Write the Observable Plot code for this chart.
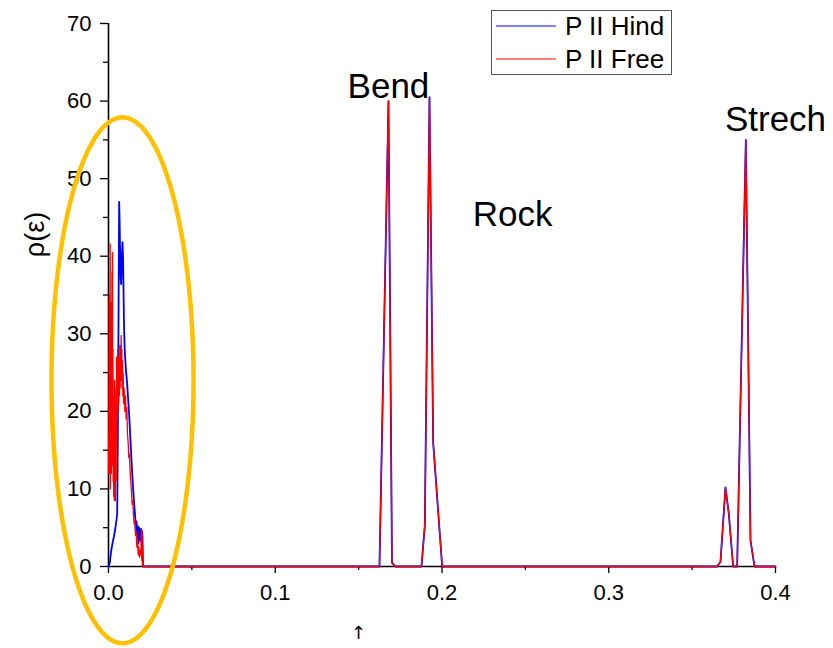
<!DOCTYPE html>
<html>
<head>
<meta charset="utf-8">
<script src="https://cdn.jsdelivr.net/npm/d3@7"></script>
<script src="https://cdn.jsdelivr.net/npm/@observablehq/plot@0.6"></script>
<style>
  html, body { margin: 0; padding: 0; background: #fff; }
  #wrap { position: relative; width: 833px; height: 648px; font-family: "Liberation Sans", Arial, sans-serif; }
  #legend { position: absolute; left: 491px; top: 10px; }
</style>
</head>
<body>
<div id="wrap"></div>
<script>
// ---- data ----
const seriesNames = ["P II Hind", "P II Free"];
const seriesColors = ["#0000ff", "#ff0000"];

// low-energy region, P II Hind
const hindX = [0.0000,0.0008,0.0016,0.0024,0.0032,0.0040,0.0048,0.0052,0.0055,0.0058,0.0061,0.0064,0.0067,0.0070,0.0073,0.0076,0.0079,0.0084,0.0087,0.0090,0.0093,0.0097,0.0101,0.0106,0.0112,0.0118,0.0124,0.0130,0.0136,0.0142,0.0148,0.0154,0.0160,0.0164,0.0168,0.0172,0.0176,0.0180,0.0184,0.0188,0.0192,0.0196,0.0200,0.0204,0.0207];
const hindY = [0,0.5,2,3,3.8,4.8,6,6.8,14,24,36,47,44,40,37,36.4,39.5,41.8,40,35.6,31,28,26.5,25,23.5,21.5,19.5,17,14.5,12,10,8,6.5,4.5,5.8,3.6,5.2,3,5,3.4,4.8,3.2,4.6,3.8,0];

// low-energy region, P II Free
const freeX = [0.0000,0.0002,0.0004,0.0005,0.0007,0.0008,0.0010,0.0011,0.0013,0.0014,0.0016,0.0017,0.0019,0.0021,0.0022,0.0024,0.0025,0.0027,0.0028,0.0030,0.0031,0.0033,0.0035,0.0036,0.0038,0.0040,0.0041,0.0043,0.0045,0.0046,0.0048,0.0050,0.0052,0.0054,0.0056,0.0058,0.0060,0.0062,0.0064,0.0066,0.0068,0.0070,0.0072,0.0074,0.0076,0.0078,0.0080,0.0082,0.0084,0.0086,0.0088,0.0090,0.0094,0.0098,0.0102,0.0106,0.0110,0.0114,0.0118,0.0122,0.0126,0.0130,0.0134,0.0138,0.0142,0.0146,0.0150,0.0154,0.0158,0.0162,0.0166,0.0170,0.0174,0.0178,0.0182,0.0186,0.0190,0.0194,0.0197,0.0199,0.0201,0.0204];
const freeY = [12,18,35,12,30,20,41.6,10,30,14,34,12,25,38,15,40.5,13,28,11,22,9,19,8.5,24,14,21,8.5,17,23,11,27,17,25,19,28,20,26,21,27,22,28.5,23,27,24,29.8,25,28,23,26.5,22,25,21,23,20,22,19,20.5,17,16,14,14.5,12,11,9.5,8,8.5,6.5,5.5,6,4,4.5,2.5,3.5,1.5,2.5,1.2,2,1.5,4.9,0.8,4.7,0];

// vibrational peaks (both series coincide)
const peakX = [0.0210,0.1625,0.1679,0.1700,0.1720,0.1877,0.1897,0.1925,0.1947,0.2001,0.3650,0.3670,0.3700,0.3720,0.3746,0.3770,0.3822,0.3850,0.3874,0.4000];
const peakY = [0,0,60,0.5,0,0,5.3,60.5,16,0,0,0.6,10.2,6.8,0,0,55,3.4,0,0];

// tick values
const xMajorTicks = [0, 0.1, 0.2, 0.3, 0.4];
const xMinorTicks = [0.05, 0.15, 0.25, 0.35];
const yMajorTicks = [0, 10, 20, 30, 40, 50, 60, 70];
const yMinorTicks = [5, 15, 25, 35, 45, 55, 65];

// annotations (data units)
const annoText = ["Bend", "Rock", "Strech"];
const annoX = [0.1679, 0.2423, 0.4000];
const annoY = [61.8, 45.3, 57.6];

// highlight ellipse (data units): cx, cy, rx, ry
const ellipseParams = [0.0084, 24.0, 0.0426, 33.9];

// ---- build tables ----
const hind = hindX.map((x, i) => ({x, y: hindY[i]})).concat(peakX.map((x, i) => ({x, y: peakY[i]})));
const free = freeX.map((x, i) => ({x, y: freeY[i]})).concat(peakX.map((x, i) => ({x, y: peakY[i]})));
const annos = annoText.map((t, i) => ({t, x: annoX[i], y: annoY[i]}));
const [ecx, ecy, erx, ery] = ellipseParams;
const ellipse = d3.range(0, 121).map(k => {
  const a = (k / 120) * 2 * Math.PI;
  return {x: ecx + erx * Math.cos(a), y: ecy + ery * Math.sin(a)};
});

const chart = Plot.plot({
  width: 833,
  height: 648,
  marginLeft: 108,
  marginRight: 58,
  marginTop: 23,
  marginBottom: 82,
  style: {fontFamily: "'Liberation Sans', Arial, sans-serif", background: "white", overflow: "visible"},
  x: {domain: [0, 0.4]},
  y: {domain: [0, 70]},
  marks: [
    Plot.axisY({ticks: yMajorTicks, tickSize: 8, tickPadding: 9, fontSize: 22, label: null, strokeWidth: 1.3, color: "black"}),
    Plot.axisY({ticks: yMinorTicks, tickSize: 5, text: null, label: null, strokeWidth: 1.3}),
    Plot.axisX({ticks: xMajorTicks, tickFormat: d3.format(".1f"), tickSize: 7, tickPadding: 11, fontSize: 22, label: null, strokeWidth: 1.3, color: "black"}),
    Plot.axisX({ticks: xMinorTicks, tickSize: 4, text: null, label: null, strokeWidth: 1.3}),
    Plot.ruleX([0], {stroke: "black", strokeWidth: 1.6}),
    Plot.ruleY([0], {stroke: "black", strokeWidth: 1.6}),
    Plot.line(hind, {x: "x", y: "y", stroke: seriesColors[0], strokeWidth: 1.8}),
    Plot.line(free, {x: "x", y: "y", stroke: seriesColors[1], strokeWidth: 1.3}),
    Plot.line(ellipse, {x: "x", y: "y", stroke: "#ffc000", strokeWidth: 4.5, curve: "linear-closed"}),
    Plot.text(annos, {x: "x", y: "y", text: "t", fontSize: 35, fill: "black", textAnchor: "middle", lineAnchor: "middle"}),
    Plot.text(["ρ(ε)"], {x: () => 0, y: () => 42.8, dx: -73, rotate: -90, fontSize: 27, fill: "black", textAnchor: "middle", lineAnchor: "middle"}),
    Plot.text(["↑"], {x: () => 0.15, y: () => -8.6, fontSize: 18, fontFamily: "DejaVu Sans", fill: "black", textAnchor: "middle", lineAnchor: "middle"})
  ]
});

const wrap = document.getElementById("wrap");
wrap.appendChild(chart);

// legend overlay (inside plot, top-right)
const ns = "http://www.w3.org/2000/svg";
const leg = document.createElementNS(ns, "svg");
leg.setAttribute("id", "legend");
leg.setAttribute("width", 182);
leg.setAttribute("height", 66);
leg.innerHTML = `<rect x="0.5" y="0.5" width="180" height="64" fill="white" stroke="#555" stroke-width="1"/>` +
  seriesNames.map((n, i) => {
    const cy = 16 + i * 33;
    return `<line x1="5" x2="65" y1="${cy}" y2="${cy}" stroke="${seriesColors[i]}" stroke-width="1.2"/>` +
      `<text x="74" y="${cy + 9.3}" font-size="26" font-family="'Liberation Sans', Arial, sans-serif" fill="black">${n}</text>`;
  }).join("");
wrap.appendChild(leg);
</script>
</body>
</html>
